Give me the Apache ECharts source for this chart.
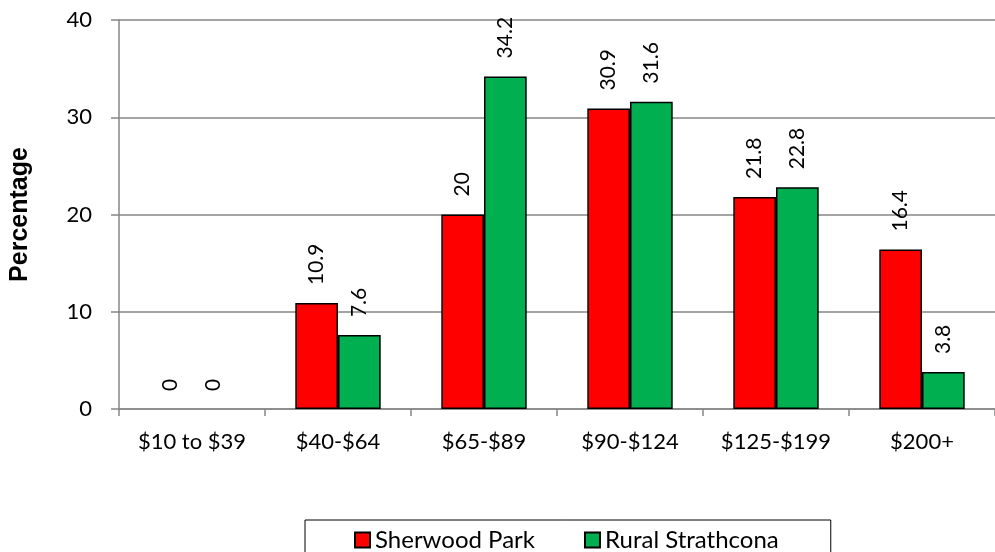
<!DOCTYPE html>
<html>
<head>
<meta charset="utf-8">
<script src="https://cdn.jsdelivr.net/npm/echarts@6/dist/echarts.min.js"></script>
<style>
  html, body { margin: 0; padding: 0; background: #fff; }
  #chart { width: 995px; height: 552px; }
</style>
</head>
<body>
<div id="chart"></div>
<script>
// categories and values
const categories = ['$10 to $39', '$40-$64', '$65-$89', '$90-$124', '$125-$199', '$200+'];
const sherwoodPark = [0, 10.9, 20, 30.9, 21.8, 16.4];
const ruralStrathcona = [0, 7.6, 34.2, 31.6, 22.8, 3.8];
const yTicks = { min: 0, max: 40, interval: 10 };

const FONT = 'Lato, "Open Sans", sans-serif';
const axisGray = '#868686';

// zero bars have no visible outline in the original
function barData(arr) {
  return arr.map(v => v === 0 ? { value: v, itemStyle: { borderWidth: 0 } } : v);
}

const labelStyle = {
  show: true,
  position: 'top',
  rotate: 90,
  align: 'left',
  verticalAlign: 'middle',
  distance: 18,
  color: '#000',
  fontSize: 21,
  fontFamily: FONT
};

const chart = echarts.init(document.getElementById('chart'));
chart.setOption({
  animation: false,
  backgroundColor: '#fff',
  grid: {
    left: 118,
    right: -8,
    top: 20,
    bottom: 143
  },
  legend: {
    left: 305,
    top: 520,
    icon: 'rect',
    itemWidth: 15,
    itemHeight: 15,
    itemGap: 49,
    padding: [8, 52, 10, 49],
    borderColor: '#000',
    borderWidth: 1,
    textStyle: { color: '#000', fontSize: 24, fontFamily: FONT },
    data: ['Sherwood Park', 'Rural Strathcona']
  },
  xAxis: {
    type: 'category',
    data: categories,
    axisLine: { lineStyle: { color: axisGray, width: 1.5 } },
    axisTick: { show: true, length: 7, lineStyle: { color: axisGray, width: 1.5 } },
    axisLabel: { color: '#000', fontSize: 22, fontFamily: FONT, margin: 22 }
  },
  yAxis: {
    type: 'value',
    min: yTicks.min,
    max: yTicks.max,
    interval: yTicks.interval,
    name: 'Percentage',
    nameLocation: 'middle',
    nameGap: 86,
    nameTextStyle: { color: '#000', fontSize: 25, fontWeight: 'bold', fontFamily: 'Liberation Sans, Arial, sans-serif' },
    axisLine: { show: true, lineStyle: { color: axisGray, width: 1.5 } },
    axisTick: { show: true, length: 8, lineStyle: { color: axisGray, width: 1.5 } },
    splitLine: { lineStyle: { color: axisGray, width: 1.5 } },
    axisLabel: { color: '#000', fontSize: 22, fontFamily: FONT, margin: 27 }
  },
  series: [
    {
      name: 'Sherwood Park',
      type: 'bar',
      data: barData(sherwoodPark),
      barGap: '0%',
      barCategoryGap: '41.5%',
      itemStyle: { color: '#ff0000', borderColor: '#000', borderWidth: 1.5 },
      label: labelStyle
    },
    {
      name: 'Rural Strathcona',
      type: 'bar',
      data: barData(ruralStrathcona),
      barGap: '0%',
      barCategoryGap: '41.5%',
      itemStyle: { color: '#00b050', borderColor: '#000', borderWidth: 1.5 },
      label: labelStyle
    }
  ]
});
</script>
</body>
</html>
